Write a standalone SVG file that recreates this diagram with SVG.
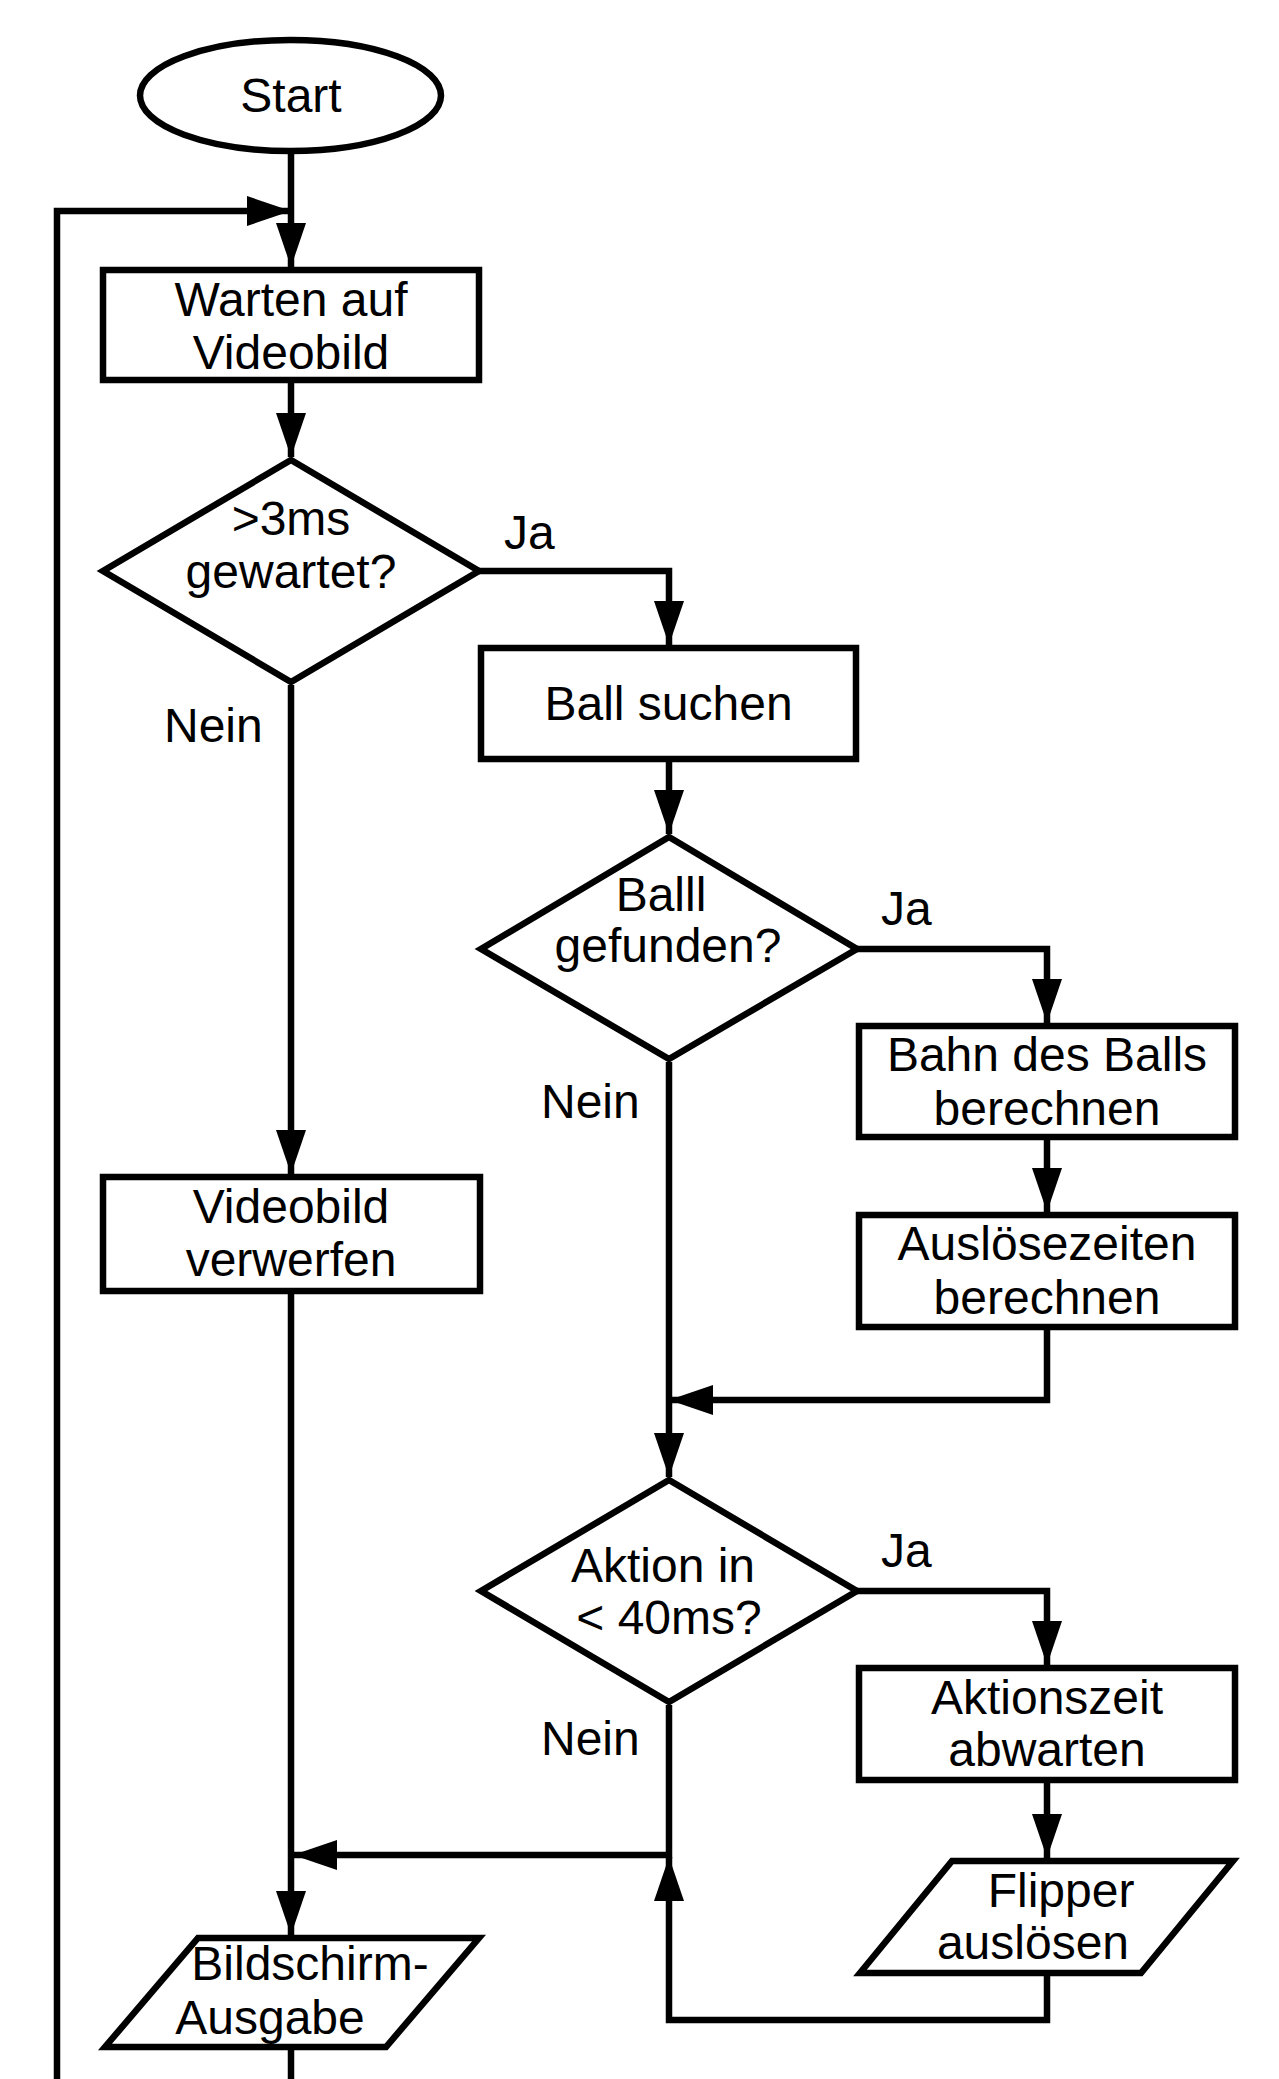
<svg xmlns="http://www.w3.org/2000/svg" width="1279" height="2079" viewBox="0 0 1279 2079">
<style>
.s{fill:#fff;stroke:#000;stroke-width:6.5;stroke-linejoin:miter}
.c{fill:none;stroke:#000;stroke-width:6.5;stroke-linejoin:miter}
.ca{fill:none;stroke:#000;stroke-width:6.5;stroke-linejoin:miter;marker-end:url(#ah)}
text{font-family:"Liberation Sans",Arial,sans-serif;font-size:48px;fill:#000}
.m{text-anchor:middle}
</style>
<defs>
<marker id="ah" markerUnits="userSpaceOnUse" markerWidth="44" markerHeight="30" refX="44" refY="15" orient="auto">
<path d="M0,0 L44,15 L0,30 z" fill="#000"/>
</marker>
</defs>
<rect width="1279" height="2079" fill="#fff"/>
<g id="connectors">
<path class="ca" d="M57,2079 V211 H291"/>
<path class="ca" d="M291,154 V267"/>
<path class="ca" d="M291,383 V457"/>
<path class="ca" d="M479,571 H669 V645"/>
<path class="ca" d="M291,685 V1174"/>
<path class="ca" d="M669,762 V834"/>
<path class="ca" d="M857,949 H1047 V1023"/>
<path class="ca" d="M1047,1140 V1212"/>
<path class="ca" d="M1047,1330 V1400 H669"/>
<path class="ca" d="M669,1062 V1477"/>
<path class="ca" d="M857,1591 H1047 V1665"/>
<path class="ca" d="M1047,1783 V1858"/>
<path class="ca" d="M1047,1976 V2020 H669 V1857"/>
<path class="ca" d="M669,1705 V1855 H293"/>
<path class="ca" d="M291,1294 V1935"/>
<path class="c" d="M291,2050 V2079"/>
</g>
<g id="start">
<ellipse class="s" cx="290.5" cy="95.5" rx="150.5" ry="55.5"/>
<text class="m" x="291" y="112">Start</text>
</g>
<g id="warten">
<rect class="s" x="103" y="270" width="376" height="110"/>
<text class="m" x="291" y="316">Warten auf</text>
<text class="m" x="291" y="369">Videobild</text>
</g>
<g id="d1">
<polygon class="s" points="291,460 479,571 291,682 103,571"/>
<text class="m" x="291" y="535">&gt;3ms</text>
<text class="m" x="291" y="588">gewartet?</text>
</g>
<g id="labels">
<text x="504" y="549">Ja</text>
<text x="164" y="742">Nein</text>
<text x="881" y="925">Ja</text>
<text x="541" y="1118">Nein</text>
<text x="881" y="1567">Ja</text>
<text x="541" y="1755">Nein</text>
</g>
<g id="ballsuchen">
<rect class="s" x="481" y="648" width="375" height="111"/>
<text class="m" x="668.5" y="720">Ball suchen</text>
</g>
<g id="d2">
<polygon class="s" points="669,837 857,949 669,1059 481,949"/>
<text class="m" x="661" y="911">Balll</text>
<text class="m" x="668" y="962">gefunden?</text>
</g>
<g id="bahn">
<rect class="s" x="859" y="1026" width="376" height="111"/>
<text class="m" x="1047" y="1071">Bahn des Balls</text>
<text class="m" x="1047" y="1125">berechnen</text>
</g>
<g id="ausloese">
<rect class="s" x="859" y="1215" width="376" height="112"/>
<text class="m" x="1047" y="1260">Auslösezeiten</text>
<text class="m" x="1047" y="1314">berechnen</text>
</g>
<g id="video">
<rect class="s" x="103" y="1177" width="377" height="114"/>
<text class="m" x="291" y="1223">Videobild</text>
<text class="m" x="291" y="1276">verwerfen</text>
</g>
<g id="d3">
<polygon class="s" points="669,1480 857,1591 669,1702 481,1591"/>
<text class="m" x="663" y="1582">Aktion in</text>
<text class="m" x="669" y="1634">&lt; 40ms?</text>
</g>
<g id="aktionszeit">
<rect class="s" x="859" y="1668" width="376" height="112"/>
<text class="m" x="1047" y="1714">Aktionszeit</text>
<text class="m" x="1047" y="1766">abwarten</text>
</g>
<g id="flipper">
<polygon class="s" points="952,1861 1233,1861 1141,1973 860,1973"/>
<text class="m" x="1061" y="1907">Flipper</text>
<text class="m" x="1033" y="1959">auslösen</text>
</g>
<g id="bildschirm">
<polygon class="s" points="198,1938 479,1938 386,2047 105,2047"/>
<text class="m" x="310" y="1980">Bildschirm-</text>
<text class="m" x="270" y="2034">Ausgabe</text>
</g>
</svg>
